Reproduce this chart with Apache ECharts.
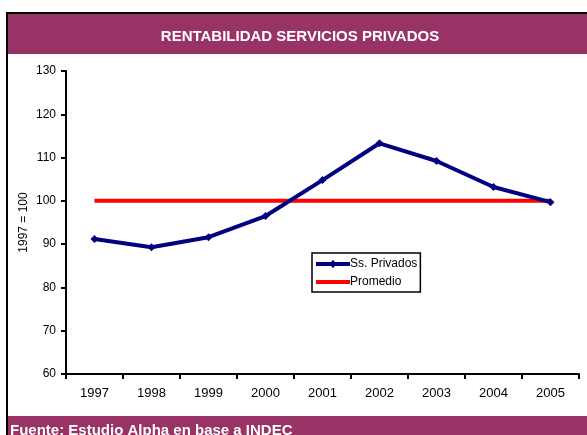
<!DOCTYPE html>
<html lang="es">
<head>
    <meta charset="UTF-8">
    <title>Rentabilidad Servicios Privados</title>
    <script src="https://cdn.jsdelivr.net/npm/echarts@6/dist/echarts.min.js"></script>
    <style>
        html, body {
            margin: 0;
            padding: 0;
            background: #fff;
        }

        #main {
            width: 587px;
            height: 435px;
        }
    </style>
</head>
<body>
<div id="main"></div>
<script>
    // datos
    var years = ['1997', '1998', '1999', '2000', '2001', '2002', '2003', '2004', '2005'];
    var privados = [91.2, 89.3, 91.6, 96.5, 104.8, 113.3, 109.2, 103.2, 99.7];
    var promedio = [100, 100, 100, 100, 100, 100, 100, 100, 100];

    var plum = '#993366';
    var font = 'Liberation Sans, Arial, sans-serif';

    var myChart = echarts.init(document.getElementById('main'));

    myChart.setOption({
        animation: false,
        backgroundColor: '#fff',
        textStyle: {fontFamily: font},
        graphic: [
            // banda del titulo y del pie
            {type: 'rect', z: 0, shape: {x: 7, y: 13, width: 590, height: 41}, style: {fill: plum}},
            {type: 'rect', z: 0, shape: {x: 7, y: 416, width: 590, height: 30}, style: {fill: plum}},
            // marco
            {type: 'line', z: 1, shape: {x1: 6, y1: 13, x2: 600, y2: 13}, style: {stroke: '#000', lineWidth: 2}},
            {type: 'line', z: 1, shape: {x1: 7, y1: 12, x2: 7, y2: 440}, style: {stroke: '#000', lineWidth: 2}},
            {
                type: 'text', z: 2, left: 10, top: 423,
                style: {text: 'Fuente: Estudio Alpha en base a INDEC', fill: '#fff', font: 'bold 15px ' + font}
            }
        ],
        title: {
            text: 'RENTABILIDAD SERVICIOS PRIVADOS',
            left: 300,
            top: 29,
            textAlign: 'center',
            padding: 0,
            textStyle: {color: '#fff', fontSize: 15, fontWeight: 'bold', fontFamily: font}
        },
        legend: {
            left: 312,
            top: 253,
            orient: 'vertical',
            itemWidth: 34,
            itemHeight: 10,
            itemGap: 6,
            padding: [5, 3, 4, 2],
            borderColor: '#000',
            borderWidth: 1.5,
            backgroundColor: '#fff',
            lineStyle: {width: 4},
            textStyle: {fontSize: 12, color: '#000', padding: [0, 0, 0, -5]},
            data: [
                {name: 'Ss. Privados'},
                {name: 'Promedio', itemStyle: {opacity: 0}}
            ]
        },
        grid: {left: 66, right: 8, top: 71, bottom: 61},
        xAxis: {
            type: 'category',
            data: years,
            boundaryGap: true,
            axisLine: {lineStyle: {color: '#000', width: 2}},
            axisTick: {show: true, length: 5, lineStyle: {color: '#000', width: 2}},
            axisLabel: {color: '#000', fontSize: 13, margin: 13}
        },
        yAxis: {
            type: 'value',
            min: 60,
            max: 130,
            interval: 10,
            name: '1997 = 100',
            nameLocation: 'middle',
            nameGap: 36,
            nameMoveOverlap: false,
            nameTextStyle: {color: '#000', fontSize: 12},
            axisLine: {show: true, lineStyle: {color: '#000', width: 2}},
            axisTick: {show: true, length: 5, lineStyle: {color: '#000', width: 2}},
            axisLabel: {color: '#000', fontSize: 12, margin: 10},
            splitLine: {show: false}
        },
        series: [
            {
                name: 'Promedio',
                type: 'line',
                data: promedio,
                symbol: 'none',
                z: 2,
                lineStyle: {color: '#ff0000', width: 4},
                itemStyle: {color: '#ff0000'}
            },
            {
                name: 'Ss. Privados',
                type: 'line',
                data: privados,
                symbol: 'diamond',
                symbolSize: 8,
                z: 3,
                lineStyle: {color: '#000080', width: 4},
                itemStyle: {color: '#000080'}
            }
        ]
    });
</script>
</body>
</html>
